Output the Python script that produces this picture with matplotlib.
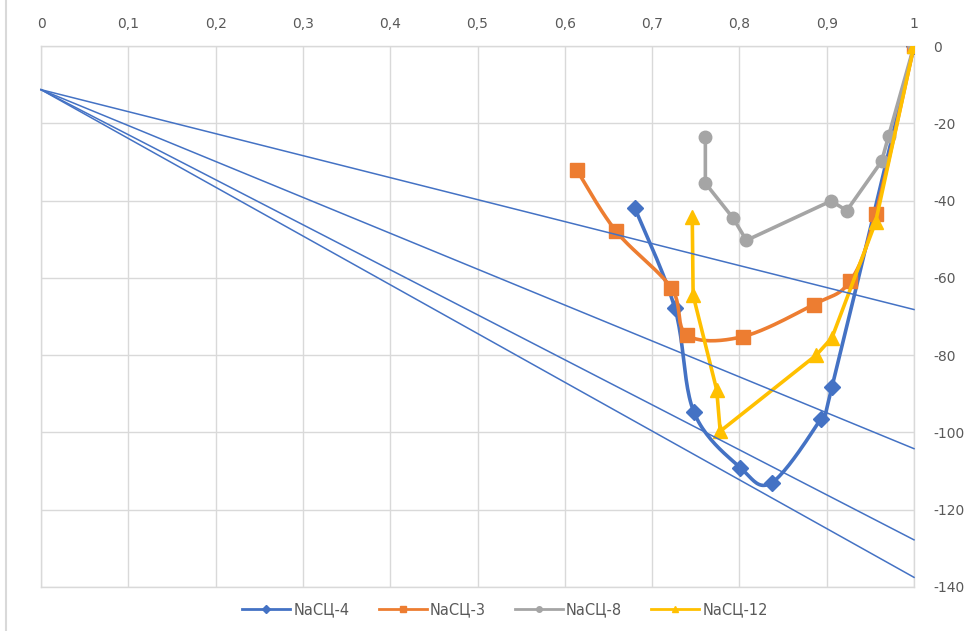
import numpy as np
import matplotlib
matplotlib.use('Agg')
import matplotlib.pyplot as plt
from matplotlib.lines import Line2D

plt.rcParams['font.family'] = ['DejaVu Sans']

# ---- data ----
x_ticks = [0, 0.1, 0.2, 0.3, 0.4, 0.5, 0.6, 0.7, 0.8, 0.9, 1.0]
x_tick_labels = ['0', '0,1', '0,2', '0,3', '0,4', '0,5', '0,6', '0,7', '0,8', '0,9', '1']
y_ticks = [0, -20, -40, -60, -80, -100, -120, -140]
y_tick_labels = ['0', '-20', '-40', '-60', '-80', '-100', '-120', '-140']

series_names = ['NaСЦ-4', 'NaСЦ-3', 'NaСЦ-8', 'NaСЦ-12']

nascz4_x = [0.680, 0.726, 0.748, 0.801, 0.837, 0.893, 0.906, 1.0]
nascz4_y = [-41.8, -67.8, -94.8, -109.1, -113.0, -96.5, -88.3, 0.0]

nascz3_x = [0.614, 0.659, 0.722, 0.740, 0.804, 0.885, 0.927, 0.956, 1.0]
nascz3_y = [-32.2, -48.0, -62.6, -74.8, -75.2, -66.9, -60.8, -43.5, 0.0]

nascz8_x = [0.761, 0.761, 0.793, 0.808, 0.905, 0.923, 0.963, 0.971, 1.0]
nascz8_y = [-23.5, -35.5, -44.6, -50.3, -40.1, -42.6, -29.8, -23.2, 0.0]

nascz12_x = [0.746, 0.747, 0.774, 0.778, 0.888, 0.906, 0.956, 1.0]
nascz12_y = [-44.3, -64.5, -89.0, -99.7, -80.0, -75.5, -45.6, 0.0]

tangent_x = [0.0, 1.0]
tangent_start = -11.3
tangent_ends = [-68.2, -104.2, -127.8, -137.5]

# ---- style ----
colors = ['#4472C4', '#ED7D31', '#A5A5A5', '#FFC000']
markers = ['D', 's', 'o', '^']
msizes = [8, 10, 9, 10]
smooth = [True, True, False, False]


def excel_smooth(xs, ys, sx=873.0, sy=3.87, n=24):
    px = np.asarray(xs) * sx
    py = np.asarray(ys) * sy
    P = np.column_stack([px, py])
    m = len(P)
    out = [P[0]]
    t = np.linspace(0, 1, n)[1:]
    for i in range(m - 1):
        p0 = P[i - 1] if i > 0 else P[i]
        p1 = P[i]
        p2 = P[i + 1]
        p3 = P[i + 2] if i + 2 < m else P[i + 1]
        c1 = p1 + (p2 - p0) / 6.0
        c2 = p2 - (p3 - p1) / 6.0
        for tt in t:
            b = ((1 - tt) ** 3) * p1 + 3 * ((1 - tt) ** 2) * tt * c1 + 3 * (1 - tt) * tt ** 2 * c2 + tt ** 3 * p2
            out.append(b)
    out = np.array(out)
    return out[:, 0] / sx, out[:, 1] / sy


fig = plt.figure(figsize=(9.76, 6.31), dpi=100)
ax = fig.add_axes([41 / 976, 1 - 587 / 631, (914 - 41) / 976, (587 - 46) / 631])

all_x = [nascz4_x, nascz3_x, nascz8_x, nascz12_x]
all_y = [nascz4_y, nascz3_y, nascz8_y, nascz12_y]

handles = []
for k in range(4):
    xs, ys = all_x[k], all_y[k]
    if smooth[k]:
        lx, ly = excel_smooth(xs, ys)
    else:
        lx, ly = xs, ys
    ax.plot(lx, ly, color=colors[k], lw=2.6, zorder=3 + k * 0.1, solid_capstyle='round')
    ax.plot(xs, ys, ls='none', marker=markers[k], ms=msizes[k], color=colors[k],
            markeredgecolor=colors[k], zorder=3.05 + k * 0.1)
    handles.append(Line2D([], [], color=colors[k], lw=2.0, marker=markers[k], ms=4,
                          markeredgecolor=colors[k], label=series_names[k]))

for ye in tangent_ends:
    ax.plot(tangent_x, [tangent_start, ye], color='#4472C4', lw=1.1, zorder=5, clip_on=False)

ax.set_xlim(0, 1)
ax.set_ylim(-140, 0)
ax.set_xticks(x_ticks)
ax.set_xticklabels(x_tick_labels)
ax.set_yticks(y_ticks)
ax.set_yticklabels(y_tick_labels)
ax.xaxis.tick_top()
ax.yaxis.tick_right()
ax.tick_params(axis='x', length=0, pad=11, labelsize=10, labelcolor='#595959')
ax.tick_params(axis='y', length=0, pad=14, labelsize=10, labelcolor='#595959')
for lab in ax.get_yticklabels():
    lab.set_horizontalalignment('left')
ax.grid(True, color='#d9d9d9', lw=1)
ax.set_axisbelow(True)
for sp in ax.spines.values():
    sp.set_color('#d9d9d9')
    sp.set_linewidth(1)

fig.legend(handles=handles, loc='center', bbox_to_anchor=(505 / 976, 1 - 610 / 631), ncol=4,
           frameon=False, fontsize=10.5, labelcolor='#595959', handlelength=3.3,
           columnspacing=2.0, handletextpad=0.2)

fig.add_artist(Line2D([6 / 976, 6 / 976], [0, 1], color='#d9d9d9', lw=1.5,
                      transform=fig.transFigure))

fig.savefig('out.png', dpi=100, facecolor='white')
